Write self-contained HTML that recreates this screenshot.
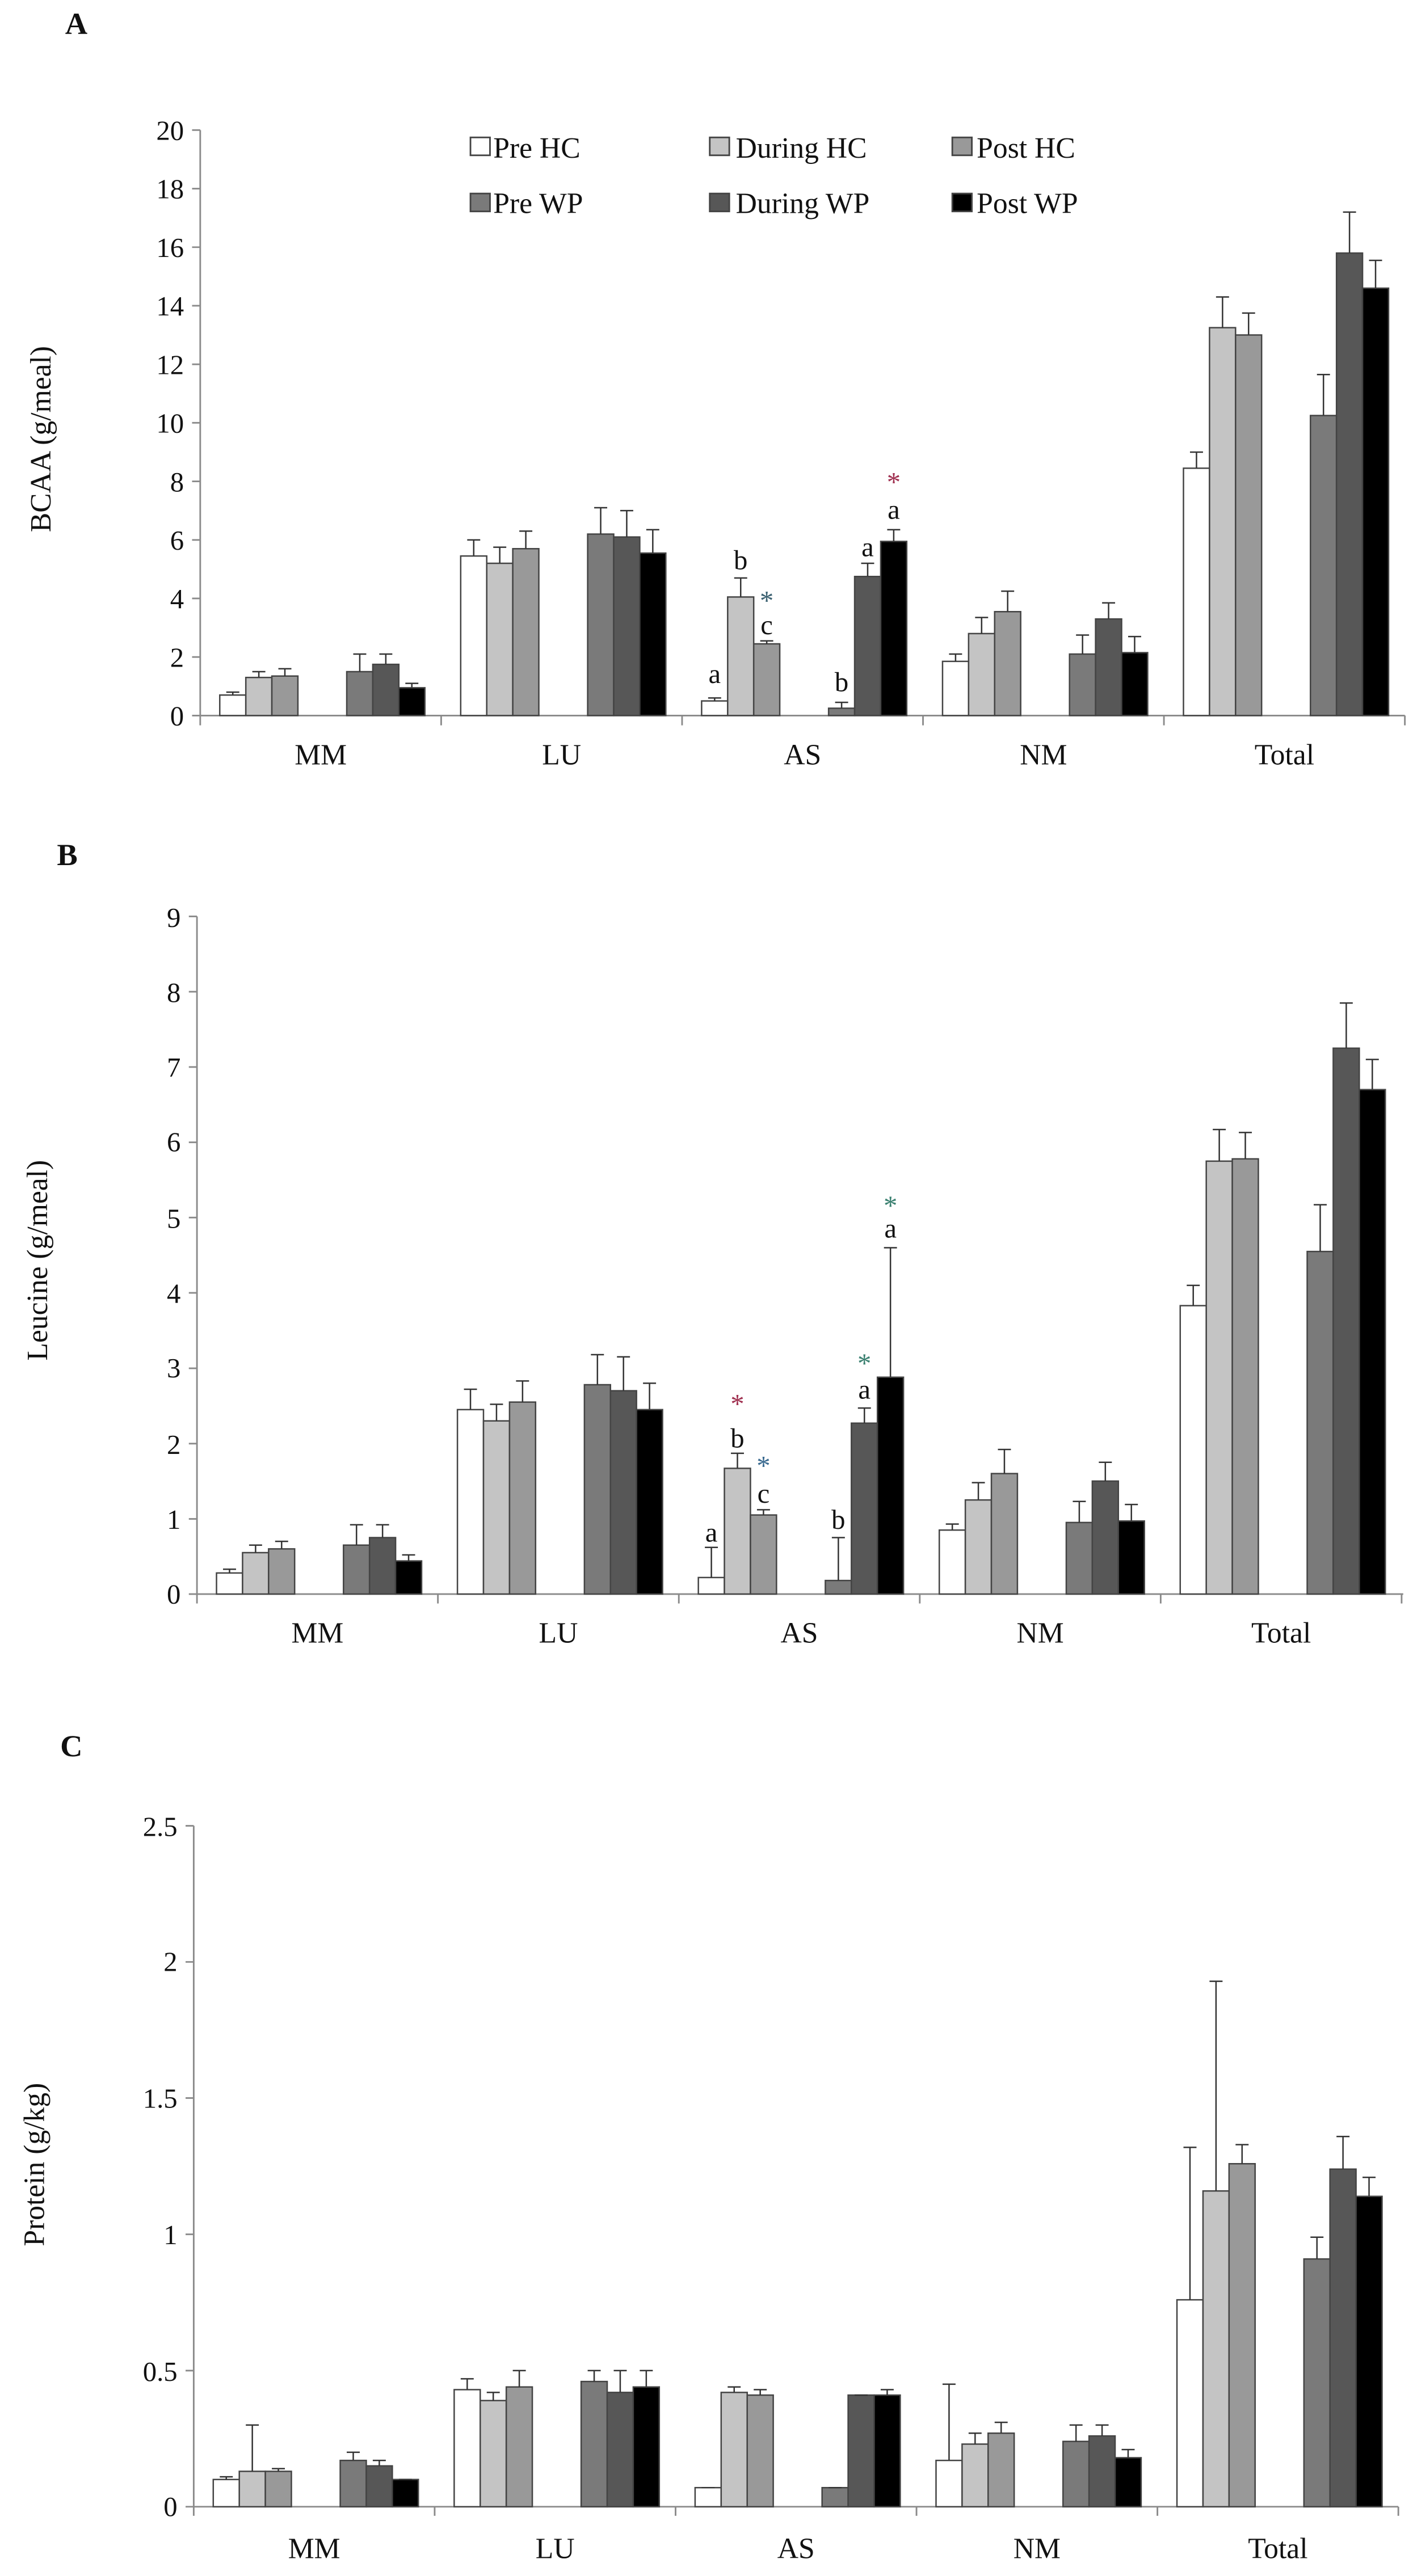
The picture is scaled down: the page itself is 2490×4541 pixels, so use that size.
<!DOCTYPE html>
<html><head><meta charset="utf-8"><style>
html,body{margin:0;padding:0;background:#fff;}
svg{display:block;}
text{font-family:"Liberation Serif",serif;fill:#111;}
.w{fill:#fff}.l{fill:#c4c4c4}.m{fill:#999}.d{fill:#7a7a7a}.e{fill:#575757}.k{fill:#000}
.bars rect{stroke:#444;stroke-width:2.5;vector-effect:non-scaling-stroke}
.err{fill:none;stroke:#333;stroke-width:2.5;vector-effect:non-scaling-stroke}
.ax{fill:none;stroke:#8a8a8a;stroke-width:1}
.tk{font-size:17px;text-anchor:end}
.cat{font-size:18px;text-anchor:middle}
.an{font-size:17px;text-anchor:middle}
.lg{font-size:18px}
.pl{font-size:19px;font-weight:bold}
.yt{font-size:18px;text-anchor:middle}
</style></head><body>
<svg width="2490" height="4541" viewBox="0 0 868 1584" preserveAspectRatio="none" xmlns="http://www.w3.org/2000/svg">
<rect width="868" height="1584" fill="#fff"/>

<!-- ===== Panel A ===== -->
<text class="pl" x="40" y="21">A</text>
<text class="yt" transform="translate(31,270) rotate(-90)">BCAA (g/meal)</text>
<path class="ax" d="M123 80 V440 H863 M118 80H123 M118 116H123 M118 152H123 M118 188H123 M118 224H123 M118 260H123 M118 296H123 M118 332H123 M118 368H123 M118 404H123 M118 440H123 M123 440V446 M271 440V446 M419 440V446 M567 440V446 M715 440V446 M863 440V446"/>
<g>
<text class="tk" x="113" y="446">0</text><text class="tk" x="113" y="410">2</text><text class="tk" x="113" y="374">4</text><text class="tk" x="113" y="338">6</text><text class="tk" x="113" y="302">8</text><text class="tk" x="113" y="266">10</text><text class="tk" x="113" y="230">12</text><text class="tk" x="113" y="194">14</text><text class="tk" x="113" y="158">16</text><text class="tk" x="113" y="122">18</text><text class="tk" x="113" y="86">20</text>
</g>
<text class="cat" x="197" y="470">MM</text><text class="cat" x="345" y="470">LU</text><text class="cat" x="493" y="470">AS</text><text class="cat" x="641" y="470">NM</text><text class="cat" x="789" y="470">Total</text>
<!-- legend -->
<rect x="289" y="84.5" width="12" height="11" class="w" stroke="#444" stroke-width="1"/><text class="lg" x="303" y="97">Pre HC</text>
<rect x="436" y="84.5" width="12" height="11" class="l" stroke="#444" stroke-width="1"/><text class="lg" x="452" y="97">During HC</text>
<rect x="585" y="84.5" width="12" height="11" class="m" stroke="#444" stroke-width="1"/><text class="lg" x="600" y="97">Post HC</text>
<rect x="289" y="119" width="12" height="11" class="d" stroke="#444" stroke-width="1"/><text class="lg" x="303" y="131">Pre WP</text>
<rect x="436" y="119" width="12" height="11" class="e" stroke="#444" stroke-width="1"/><text class="lg" x="452" y="131">During WP</text>
<rect x="585" y="119" width="12" height="11" class="k" stroke="#444" stroke-width="1"/><text class="lg" x="600" y="131">Post WP</text>
<g transform="translate(123,440) scale(1,-18)" class="bars">
<rect x="12" y="0" width="16" height="0.7" class="w"/><rect x="28" y="0" width="16" height="1.3" class="l"/><rect x="44" y="0" width="16" height="1.35" class="m"/><rect x="90" y="0" width="16" height="1.5" class="d"/><rect x="106" y="0" width="16" height="1.75" class="e"/><rect x="122" y="0" width="16" height="0.95" class="k"/>
<rect x="160" y="0" width="16" height="5.45" class="w"/><rect x="176" y="0" width="16" height="5.2" class="l"/><rect x="192" y="0" width="16" height="5.7" class="m"/><rect x="238" y="0" width="16" height="6.2" class="d"/><rect x="254" y="0" width="16" height="6.1" class="e"/><rect x="270" y="0" width="16" height="5.55" class="k"/>
<rect x="308" y="0" width="16" height="0.5" class="w"/><rect x="324" y="0" width="16" height="4.05" class="l"/><rect x="340" y="0" width="16" height="2.45" class="m"/><rect x="386" y="0" width="16" height="0.25" class="d"/><rect x="402" y="0" width="16" height="4.75" class="e"/><rect x="418" y="0" width="16" height="5.95" class="k"/>
<rect x="456" y="0" width="16" height="1.85" class="w"/><rect x="472" y="0" width="16" height="2.8" class="l"/><rect x="488" y="0" width="16" height="3.55" class="m"/><rect x="534" y="0" width="16" height="2.1" class="d"/><rect x="550" y="0" width="16" height="3.3" class="e"/><rect x="566" y="0" width="16" height="2.15" class="k"/>
<rect x="604" y="0" width="16" height="8.45" class="w"/><rect x="620" y="0" width="16" height="13.25" class="l"/><rect x="636" y="0" width="16" height="13.0" class="m"/><rect x="682" y="0" width="16" height="10.25" class="d"/><rect x="698" y="0" width="16" height="15.8" class="e"/><rect x="714" y="0" width="16" height="14.6" class="k"/>
<path class="err" d="M20 .7V.8M16 .8H24 M36 1.3V1.5M32 1.5H40 M52 1.35V1.6M48 1.6H56 M98 1.5V2.1M94 2.1H102 M114 1.75V2.1M110 2.1H118 M130 .95V1.1M126 1.1H134
M168 5.45V6M164 6H172 M184 5.2V5.75M180 5.75H188 M200 5.7V6.3M196 6.3H204 M246 6.2V7.1M242 7.1H250 M262 6.1V7M258 7H266 M278 5.55V6.35M274 6.35H282
M316 .5V.6M312 .6H320 M332 4.05V4.7M328 4.7H336 M348 2.45V2.55M344 2.55H352 M394 .25V.45M390 .45H398 M410 4.75V5.2M406 5.2H414 M426 5.95V6.35M422 6.35H430
M464 1.85V2.1M460 2.1H468 M480 2.8V3.35M476 3.35H484 M496 3.55V4.25M492 4.25H500 M542 2.1V2.75M538 2.75H546 M558 3.3V3.85M554 3.85H562 M574 2.15V2.7M570 2.7H578
M612 8.45V9M608 9H616 M628 13.25V14.3M624 14.3H632 M644 13V13.75M640 13.75H648 M690 10.25V11.65M686 11.65H694 M706 15.8V17.2M702 17.2H710 M722 14.6V15.55M718 15.55H726"/>
</g>
<text class="an" x="439" y="420">a</text>
<text class="an" x="455" y="350">b</text>
<text class="an" x="471" y="375" fill="#3a6070" style="fill:#3a6070">*</text>
<text class="an" x="471" y="390">c</text>
<text class="an" x="517" y="425">b</text>
<text class="an" x="533" y="342">a</text>
<text class="an" x="549" y="319">a</text>
<text class="an" x="549" y="302" style="fill:#a03050">*</text>

<!-- ===== Panel B ===== -->
<text class="pl" x="35" y="532">B</text>
<text class="yt" transform="translate(29,775) rotate(-90)">Leucine (g/meal)</text>
<path class="ax" d="M121 563.5 V980.2 H862 M116 563.5H121 M116 609.8H121 M116 656.1H121 M116 702.4H121 M116 748.7H121 M116 795H121 M116 841.4H121 M116 887.7H121 M116 934H121 M116 980.2H121 M121 980.2V986 M269 980.2V986 M417 980.2V986 M565 980.2V986 M713 980.2V986 M861 980.2V986"/>
<text class="tk" x="111" y="986">0</text><text class="tk" x="111" y="940">1</text><text class="tk" x="111" y="894">2</text><text class="tk" x="111" y="847">3</text><text class="tk" x="111" y="801">4</text><text class="tk" x="111" y="755">5</text><text class="tk" x="111" y="708">6</text><text class="tk" x="111" y="662">7</text><text class="tk" x="111" y="616">8</text><text class="tk" x="111" y="570">9</text>
<text class="cat" x="195" y="1010">MM</text><text class="cat" x="343" y="1010">LU</text><text class="cat" x="491" y="1010">AS</text><text class="cat" x="639" y="1010">NM</text><text class="cat" x="787" y="1010">Total</text>
<g transform="translate(121,980.2) scale(1,-46.3)" class="bars">
<rect x="12" y="0" width="16" height=".28" class="w"/><rect x="28" y="0" width="16" height=".55" class="l"/><rect x="44" y="0" width="16" height=".6" class="m"/><rect x="90" y="0" width="16" height=".65" class="d"/><rect x="106" y="0" width="16" height=".75" class="e"/><rect x="122" y="0" width="16" height=".44" class="k"/>
<rect x="160" y="0" width="16" height="2.45" class="w"/><rect x="176" y="0" width="16" height="2.3" class="l"/><rect x="192" y="0" width="16" height="2.55" class="m"/><rect x="238" y="0" width="16" height="2.78" class="d"/><rect x="254" y="0" width="16" height="2.7" class="e"/><rect x="270" y="0" width="16" height="2.45" class="k"/>
<rect x="308" y="0" width="16" height=".22" class="w"/><rect x="324" y="0" width="16" height="1.67" class="l"/><rect x="340" y="0" width="16" height="1.05" class="m"/><rect x="386" y="0" width="16" height=".18" class="d"/><rect x="402" y="0" width="16" height="2.27" class="e"/><rect x="418" y="0" width="16" height="2.88" class="k"/>
<rect x="456" y="0" width="16" height=".85" class="w"/><rect x="472" y="0" width="16" height="1.25" class="l"/><rect x="488" y="0" width="16" height="1.6" class="m"/><rect x="534" y="0" width="16" height=".95" class="d"/><rect x="550" y="0" width="16" height="1.5" class="e"/><rect x="566" y="0" width="16" height=".97" class="k"/>
<rect x="604" y="0" width="16" height="3.83" class="w"/><rect x="620" y="0" width="16" height="5.75" class="l"/><rect x="636" y="0" width="16" height="5.78" class="m"/><rect x="682" y="0" width="16" height="4.55" class="d"/><rect x="698" y="0" width="16" height="7.25" class="e"/><rect x="714" y="0" width="16" height="6.7" class="k"/>
<path class="err" d="M20 .28V.33M16 .33H24 M36 .55V.65M32 .65H40 M52 .6V.7M48 .7H56 M98 .65V.92M94 .92H102 M114 .75V.92M110 .92H118 M130 .44V.52M126 .52H134
M168 2.45V2.72M164 2.72H172 M184 2.3V2.52M180 2.52H188 M200 2.55V2.83M196 2.83H204 M246 2.78V3.18M242 3.18H250 M262 2.7V3.15M258 3.15H266 M278 2.45V2.8M274 2.8H282
M316 .22V.62M312 .62H320 M332 1.67V1.87M328 1.87H336 M348 1.05V1.12M344 1.12H352 M394 .18V.75M390 .75H398 M410 2.27V2.47M406 2.47H414 M426 2.88V4.6M422 4.6H430
M464 .85V.93M460 .93H468 M480 1.25V1.48M476 1.48H484 M496 1.6V1.92M492 1.92H500 M542 .95V1.23M538 1.23H546 M558 1.5V1.75M554 1.75H562 M574 .97V1.19M570 1.19H578
M612 3.83V4.1M608 4.1H616 M628 5.75V6.17M624 6.17H632 M644 5.78V6.13M640 6.13H648 M690 4.55V5.17M686 5.17H694 M706 7.25V7.85M702 7.85H710 M722 6.7V7.1M718 7.1H726"/>
</g>
<text class="an" x="437" y="948">a</text>
<text class="an" x="453" y="869" style="fill:#a03050">*</text>
<text class="an" x="453" y="890">b</text>
<text class="an" x="469" y="907" style="fill:#3a6a90">*</text>
<text class="an" x="469" y="924">c</text>
<text class="an" x="515" y="940">b</text>
<text class="an" x="531" y="844" style="fill:#3a8070">*</text>
<text class="an" x="531" y="860">a</text>
<text class="an" x="547" y="747" style="fill:#3a8070">*</text>
<text class="an" x="547" y="761">a</text>

<!-- ===== Panel C ===== -->
<text class="pl" x="37" y="1080">C</text>
<text class="yt" transform="translate(27,1331) rotate(-90)">Protein (g/kg)</text>
<path class="ax" d="M119 1122.7 V1541.4 H859 M114 1122.7H119 M114 1206.4H119 M114 1290.1H119 M114 1373.9H119 M114 1457.7H119 M114 1541.4H119 M119 1541.4V1547 M267 1541.4V1547 M415 1541.4V1547 M563 1541.4V1547 M711 1541.4V1547 M859 1541.4V1547"/>
<text class="tk" x="109" y="1547">0</text><text class="tk" x="109" y="1464">0.5</text><text class="tk" x="109" y="1380">1</text><text class="tk" x="109" y="1296">1.5</text><text class="tk" x="109" y="1212">2</text><text class="tk" x="109" y="1129">2.5</text>
<text class="cat" x="193" y="1573">MM</text><text class="cat" x="341" y="1573">LU</text><text class="cat" x="489" y="1573">AS</text><text class="cat" x="637" y="1573">NM</text><text class="cat" x="785" y="1573">Total</text>
<g transform="translate(119,1541.4) scale(1,-167.4)" class="bars">
<rect x="12" y="0" width="16" height=".1" class="w"/><rect x="28" y="0" width="16" height=".13" class="l"/><rect x="44" y="0" width="16" height=".13" class="m"/><rect x="90" y="0" width="16" height=".17" class="d"/><rect x="106" y="0" width="16" height=".15" class="e"/><rect x="122" y="0" width="16" height=".1" class="k"/>
<rect x="160" y="0" width="16" height=".43" class="w"/><rect x="176" y="0" width="16" height=".39" class="l"/><rect x="192" y="0" width="16" height=".44" class="m"/><rect x="238" y="0" width="16" height=".46" class="d"/><rect x="254" y="0" width="16" height=".42" class="e"/><rect x="270" y="0" width="16" height=".44" class="k"/>
<rect x="308" y="0" width="16" height=".07" class="w"/><rect x="324" y="0" width="16" height=".42" class="l"/><rect x="340" y="0" width="16" height=".41" class="m"/><rect x="386" y="0" width="16" height=".07" class="d"/><rect x="402" y="0" width="16" height=".41" class="e"/><rect x="418" y="0" width="16" height=".41" class="k"/>
<rect x="456" y="0" width="16" height=".17" class="w"/><rect x="472" y="0" width="16" height=".23" class="l"/><rect x="488" y="0" width="16" height=".27" class="m"/><rect x="534" y="0" width="16" height=".24" class="d"/><rect x="550" y="0" width="16" height=".26" class="e"/><rect x="566" y="0" width="16" height=".18" class="k"/>
<rect x="604" y="0" width="16" height=".76" class="w"/><rect x="620" y="0" width="16" height="1.16" class="l"/><rect x="636" y="0" width="16" height="1.26" class="m"/><rect x="682" y="0" width="16" height=".91" class="d"/><rect x="698" y="0" width="16" height="1.24" class="e"/><rect x="714" y="0" width="16" height="1.14" class="k"/>
<path class="err" d="M20 .1V.11M16 .11H24 M36 .13V.3M32 .3H40 M52 .13V.14M48 .14H56 M98 .17V.2M94 .2H102 M114 .15V.17M110 .17H118 M130 .1V.1M126 .1H134
M168 .43V.47M164 .47H172 M184 .39V.42M180 .42H188 M200 .44V.5M196 .5H204 M246 .46V.5M242 .5H250 M262 .42V.5M258 .5H266 M278 .44V.5M274 .5H282
M316 .07V.07M312 .07H320 M332 .42V.44M328 .44H336 M348 .41V.43M344 .43H352 M394 .07V.07M390 .07H398 M410 .41V.41M406 .41H414 M426 .41V.43M422 .43H430
M464 .17V.45M460 .45H468 M480 .23V.27M476 .27H484 M496 .27V.31M492 .31H500 M542 .24V.3M538 .3H546 M558 .26V.3M554 .3H562 M574 .18V.21M570 .21H578
M612 .76V1.32M608 1.32H616 M628 1.16V1.93M624 1.93H632 M644 1.26V1.33M640 1.33H648 M690 .91V.99M686 .99H694 M706 1.24V1.36M702 1.36H710 M722 1.14V1.21M718 1.21H726"/>
</g>
</svg>
</body></html>
